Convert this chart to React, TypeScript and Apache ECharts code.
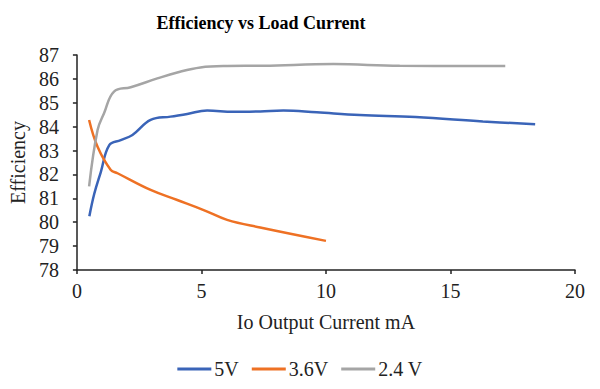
import React, { useEffect, useRef } from "react";
import * as echarts from "echarts";

const seriesNames = ["5V", "3.6V", "2.4 V"];
const colors = ["#3A64B8", "#EE7124", "#A5A5A5"];

const x5V = [0.5, 0.7, 0.96, 1.3, 1.76, 2.23, 2.96, 3.76, 4.43, 5.23, 6.28, 7.36, 8.29, 9.63, 11.36, 13.6, 16.3, 18.4];
const y5V = [80.25, 81.2, 82.1, 83.23, 83.44, 83.65, 84.28, 84.42, 84.53, 84.68, 84.62, 84.64, 84.68, 84.6, 84.49, 84.4, 84.22, 84.1];

const x36V = [0.49, 0.83, 1.36, 1.63, 2.96, 4.03, 5.09, 6.03, 7.36, 10.0];
const y36V = [84.28, 83.16, 82.19, 82.05, 81.35, 80.93, 80.51, 80.1, 79.78, 79.22];

const x24V = [0.49, 0.83, 1.09, 1.49, 2.16, 3.23, 4.03, 4.96, 6.03, 7.5, 10.3, 12.96, 17.2];
const y24V = [81.5, 83.86, 84.56, 85.47, 85.65, 86.02, 86.27, 86.48, 86.54, 86.55, 86.62, 86.55, 86.54];

const xTicks = { min: 0, max: 20, interval: 5 };
const yTicks = { min: 78, max: 87, interval: 1 };

const font = "'Liberation Serif', 'Times New Roman', serif";

export default function App() {
  const ref = useRef<HTMLDivElement>(null);
  useEffect(() => {
    document.body.style.margin = "0";
    if (!ref.current) return;
    const chart = echarts.init(ref.current, null, { renderer: "svg" });
    const zip = (xs: number[], ys: number[]) => xs.map((x, i) => [x, ys[i]]);
    const data = [zip(x5V, y5V), zip(x36V, y36V), zip(x24V, y24V)];
    chart.setOption({
      animation: false,
      backgroundColor: "#ffffff",
      textStyle: { fontFamily: font },
      title: {
        text: "Efficiency vs Load Current",
        left: 256,
        top: 9,
        textAlign: "center",
        textStyle: { fontFamily: font, fontSize: 18, fontWeight: "bold", color: "#000" },
      },
      legend: {
        top: 354,
        left: "center",
        itemWidth: 34,
        itemHeight: 3,
        itemGap: 13,
        icon: "rect",
        textStyle: { fontFamily: font, fontSize: 20, color: "#222", padding: [0, 0, 0, -2] },
        data: seriesNames,
      },
      grid: { left: 76, right: 25, top: 55, bottom: 119, containLabel: false },
      xAxis: {
        type: "value",
        min: xTicks.min,
        max: xTicks.max,
        interval: xTicks.interval,
        name: "Io Output Current mA",
        nameLocation: "middle",
        nameGap: 42,
        nameTextStyle: { fontFamily: font, fontSize: 20, color: "#222" },
        axisLine: { show: true, lineStyle: { color: "#222", width: 1.5 } },
        axisTick: { show: true, inside: false, length: 4, lineStyle: { color: "#222", width: 1.5 } },
        axisLabel: { fontFamily: font, fontSize: 20, color: "#222", margin: 11 },
        splitLine: { show: false },
      },
      yAxis: {
        type: "value",
        min: yTicks.min,
        max: yTicks.max,
        interval: yTicks.interval,
        name: "Efficiency",
        nameLocation: "middle",
        nameGap: 42,
        nameRotate: 90,
        nameTextStyle: { fontFamily: font, fontSize: 20, color: "#222" },
        axisLine: { show: true, lineStyle: { color: "#222", width: 1.5 } },
        axisTick: { show: true, inside: false, length: 4, lineStyle: { color: "#222", width: 1.5 } },
        axisLabel: { fontFamily: font, fontSize: 20, color: "#222", margin: 18 },
        splitLine: { show: false },
      },
      series: seriesNames.map((name, i) => ({
        name,
        type: "line",
        smooth: 0.4,
        showSymbol: false,
        symbol: "none",
        color: colors[i],
        lineStyle: { width: 2.5, color: colors[i] },
        data: data[i],
      })),
    });
    return () => chart.dispose();
  }, []);
  return <div ref={ref} style={{ width: 600, height: 389 }} />;
}
